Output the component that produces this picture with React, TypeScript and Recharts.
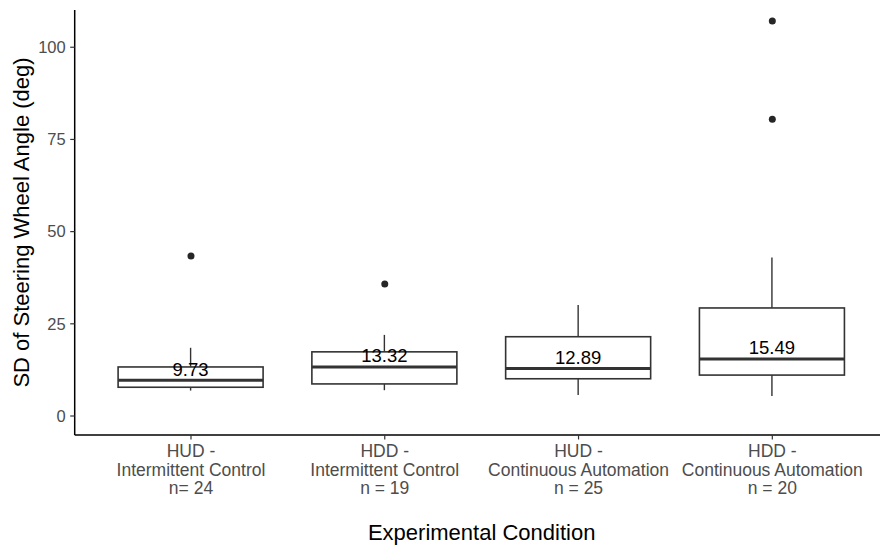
import React from 'react';
import { ComposedChart, Bar, Line, XAxis, YAxis, Label } from 'recharts';

const categories = ['HUD-IC', 'HDD-IC', 'HUD-CA', 'HDD-CA'];
const tickLabels = [
  ['HUD -', 'Intermittent Control', 'n= 24'],
  ['HDD -', 'Intermittent Control', 'n = 19'],
  ['HUD -', 'Continuous Automation', 'n = 25'],
  ['HDD -', 'Continuous Automation', 'n = 20'],
];
const whiskerLow = [6.9, 7.0, 5.7, 5.4];
const q1 = [7.8, 8.7, 10.1, 11.1];
const median = [9.73, 13.32, 12.89, 15.49];
const q3 = [13.3, 17.4, 21.5, 29.3];
const whiskerHigh = [18.5, 22.0, 30.1, 43.0];
const outlierA = [43.4, 35.8, null, 80.5];
const outlierB = [null, null, null, 107.1];
const medianLabels = ['9.73', '13.32', '12.89', '15.49'];
const yTicks = [0, 25, 50, 75, 100];

const data = categories.map((name, i) => ({
  name,
  labelLines: tickLabels[i],
  lo: whiskerLow[i],
  q1: q1[i],
  med: median[i],
  q3: q3[i],
  hi: whiskerHigh[i],
  range: [whiskerLow[i], whiskerHigh[i]],
  outA: outlierA[i],
  outB: outlierB[i],
  medLabel: medianLabels[i],
}));

const FONT = '"Liberation Sans", Arial, Helvetica, sans-serif';
const LINE = '#333333';

const BoxShape = (props: any) => {
  const { x, y, width, height, payload } = props;
  if (payload == null || height == null) return null;
  const { lo, hi } = payload;
  const toPx = (v: number) => y + ((hi - v) / (hi - lo)) * height;
  const cx = x + width / 2;
  const left = x;
  const right = x + width;
  const yq1 = toPx(payload.q1);
  const yq3 = toPx(payload.q3);
  const ymed = toPx(payload.med);
  return (
    <g>
      <line x1={cx} x2={cx} y1={y} y2={yq3} stroke={LINE} strokeWidth={1.4} />
      <line x1={cx} x2={cx} y1={yq1} y2={y + height} stroke={LINE} strokeWidth={1.4} />
      <rect x={left} y={yq3} width={right - left} height={yq1 - yq3} fill="#ffffff" stroke={LINE} strokeWidth={1.6} />
      <line x1={left} x2={right} y1={ymed} y2={ymed} stroke={LINE} strokeWidth={3} />
      <text x={cx} y={ymed - 4.5} textAnchor="middle" fontSize={18.5} fill="#000000" fontFamily={FONT}>
        {payload.medLabel}
      </text>
    </g>
  );
};

const XTick = (props: any) => {
  const { x, payload, index } = props;
  const lines = tickLabels[index] ?? [String(payload.value)];
  const baselines = [457, 475.5, 494];
  return (
    <g>
      {lines.map((t: string, i: number) => (
        <text key={i} x={x} y={baselines[i]} textAnchor="middle" fontSize={17.5} fill="#4d4d4d" fontFamily={FONT}>
          {t}
        </text>
      ))}
    </g>
  );
};

export default function App() {
  return (
    <div style={{ position: 'absolute', left: 0, top: 0, width: 880, height: 547, overflow: 'hidden', background: '#ffffff' }}>
      <ComposedChart
        width={900}
        height={547}
        data={data}
        margin={{ top: 10, right: 11.4, bottom: 0, left: 0 }}
        style={{ fontFamily: FONT }}
      >
        <XAxis
          dataKey="name"
          type="category"
          interval={0}
          height={112}
          padding={{ left: 19.4, right: 19.4 }}
          tick={<XTick />}
          tickSize={4.5}
          tickLine={{ stroke: LINE, strokeWidth: 1.2 }}
          axisLine={{ stroke: '#000000', strokeWidth: 1.5 }}
        >
          <Label
            value="Experimental Condition"
            position="insideBottom"
            offset={7}
            fill="#000000"
            fontSize={22}
            fontFamily={FONT}
          />
        </XAxis>
        <YAxis
          type="number"
          domain={[-5.15, 110.1]}
          allowDataOverflow
          ticks={yTicks}
          width={74.7}
          tickSize={4.5}
          tickMargin={4.5}
          tick={{ fill: '#4d4d4d', fontSize: 16.5, fontFamily: FONT }}
          tickLine={{ stroke: LINE, strokeWidth: 1.2 }}
          axisLine={{ stroke: '#000000', strokeWidth: 1.5 }}
        >
          <Label
            content={() => (
              <text
                transform="translate(28.5,222.5) rotate(-90)"
                textAnchor="middle"
                fontSize={22}
                fill="#000000"
                fontFamily={FONT}
              >
                SD of Steering Wheel Angle (deg)
              </text>
            )}
          />
        </YAxis>
        <Bar dataKey="range" barSize={145} shape={<BoxShape />} isAnimationActive={false} />
        <Line
          dataKey="outA"
          stroke="none"
          dot={{ r: 3.5, fill: '#262626', stroke: 'none' }}
          activeDot={false}
          isAnimationActive={false}
        />
        <Line
          dataKey="outB"
          stroke="none"
          dot={{ r: 3.5, fill: '#262626', stroke: 'none' }}
          activeDot={false}
          isAnimationActive={false}
        />
      </ComposedChart>
    </div>
  );
}
